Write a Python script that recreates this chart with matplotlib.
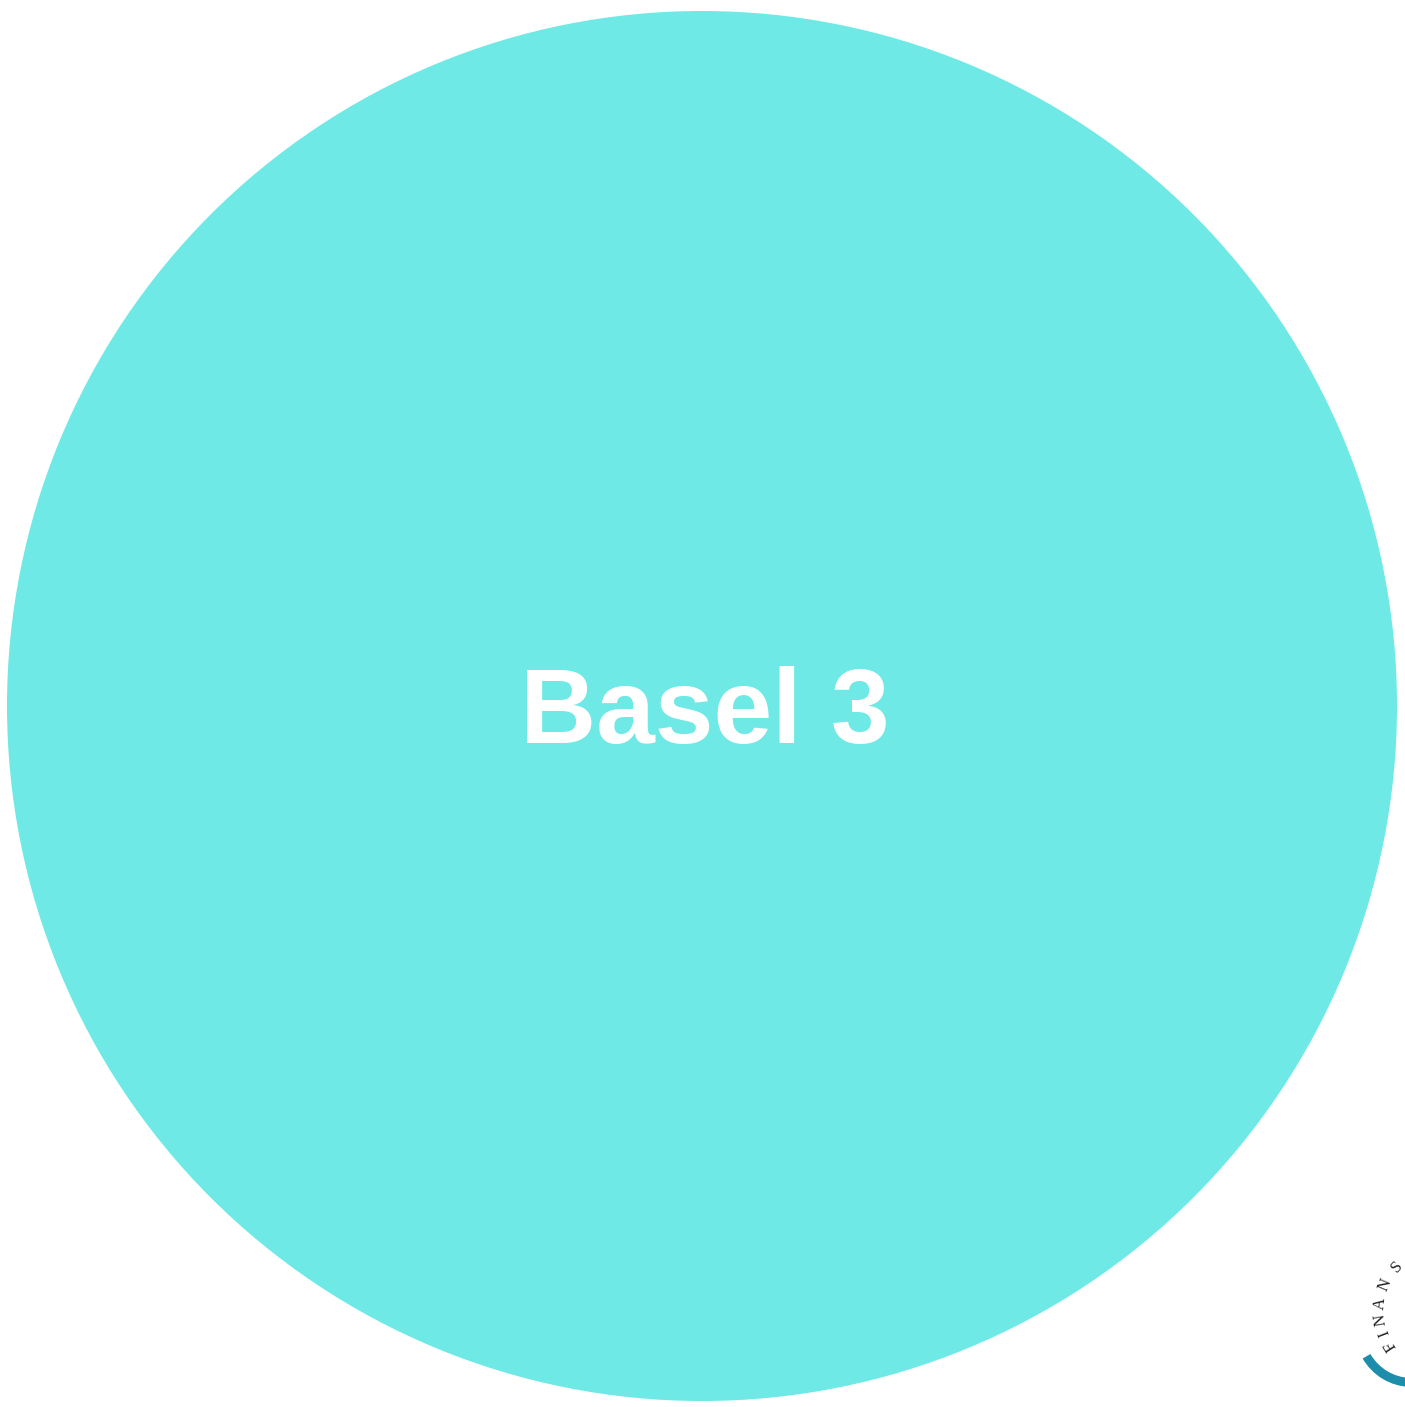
import matplotlib.pyplot as plt
from matplotlib.patches import Wedge
import numpy as np

# one bubble, one label
labels = ['Basel 3']
sizes = [1]
bubble_color = '#6EE9E6'

# partial logo letters in the bottom right corner (angle on the logo ring, y down)
logo_letters = ['F', 'I', 'N', 'A', 'N', 'S']
logo_angles = [147, 159, 171, 186, 203, 222]

W, H = 1405, 1407
fig = plt.figure(figsize=(W / 100, H / 100), dpi=100)
ax = fig.add_axes([0, 0, 1, 1])

ax.pie(sizes, colors=[bubble_color], radius=695, center=(702, 706),
       startangle=90, wedgeprops={'linewidth': 0})
ax.text(705, 715, labels[0], color='white', fontsize=76, fontweight='bold',
        family='Liberation Sans', ha='center', va='center')

# logo: blue crescent and letters on an arc
ax.add_patch(Wedge((1412, 1330), 57, 92, 150, width=9, color='#1C8DAA', lw=0))
cx, cy, r = 1445, 1310, 65
for ch, a in zip(logo_letters, logo_angles):
    t = np.deg2rad(a)
    x = cx + r * np.cos(t)
    y = cy + r * np.sin(t)
    ax.text(x, y, ch, fontsize=12, family='Liberation Serif', color='#222222',
            ha='center', va='center', rotation=-a - 90)

ax.set_xlim(0, W)
ax.set_ylim(H, 0)
ax.set_aspect('auto')
ax.axis('off')
fig.savefig('out.png', dpi=100)
